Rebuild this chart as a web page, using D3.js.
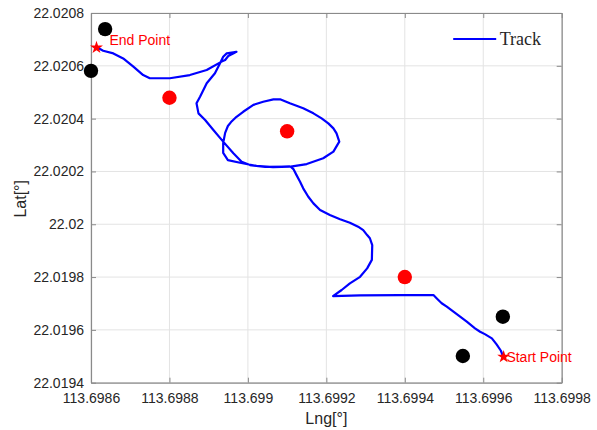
<!DOCTYPE html>
<html>
<head>
  <meta charset="UTF-8">
  <style>
body{
    margin: 0;
    background: #fff;
}
svg text{
    font-family: "Liberation Sans", Arial, sans-serif;
}
  </style>
</head>
<body>
<svg></svg>

<script src="https://d3js.org/d3.v7.min.js"></script>

<script>

let width = 597, height = 430;
let margin = {top: 13, right: 35.3, bottom: 47.3, left: 91};

// track, from start point to end point
let trackLng = [
    113.699651, 113.699645, 113.699634, 113.699622, 113.699604, 113.699592, 113.699579, 113.699558,
    113.699541, 113.699524, 113.699507, 113.699494, 113.699481, 113.699473, 113.699388, 113.699286,
    113.699217, 113.699239, 113.699260, 113.699286, 113.699304, 113.699316, 113.699317, 113.699311,
    113.699304, 113.699294, 113.699281, 113.699260, 113.699235, 113.699209, 113.699184, 113.699167,
    113.699154, 113.699141, 113.699133, 113.699124, 113.699116, 113.699109, 113.699150, 113.699192,
    113.699218, 113.699233, 113.699226, 113.699218, 113.699205, 113.699188, 113.699167, 113.699141,
    113.699107, 113.699082, 113.699065, 113.699039, 113.699014, 113.698988, 113.698971, 113.698957,
    113.698949, 113.698942, 113.698937, 113.698937, 113.698949, 113.698980, 113.699022, 113.699064,
    113.699107, 113.699044, 113.699005, 113.698984, 113.698963, 113.698937, 113.698912, 113.698891,
    113.698874, 113.698869, 113.698878, 113.698895, 113.698916, 113.698929, 113.698937, 113.698946,
    113.698971, 113.698950, 113.698942, 113.698933, 113.698895, 113.698852, 113.698801, 113.698750,
    113.698733, 113.698708, 113.698682, 113.698657, 113.698631, 113.698615
];
let trackLat = [
    22.019498, 22.019521, 22.019545, 22.019568, 22.019584, 22.019593, 22.019606, 22.019631,
    22.019650, 22.019669, 22.019688, 22.019701, 22.019720, 22.019732, 22.019732, 22.019731,
    22.019728, 22.019751, 22.019776, 22.019801, 22.019833, 22.019865, 22.019921, 22.019947,
    22.019959, 22.019978, 22.019991, 22.020006, 22.020019, 22.020035, 22.020054, 22.020079,
    22.020104, 22.020136, 22.020161, 22.020186, 22.020209, 22.020218, 22.020228, 22.020250,
    22.020275, 22.020313, 22.020344, 22.020363, 22.020382, 22.020401, 22.020420, 22.020439,
    22.020458, 22.020473, 22.020473, 22.020464, 22.020452, 22.020426, 22.020407, 22.020387,
    22.020372, 22.020346, 22.020308, 22.020270, 22.020243, 22.020233, 22.020221, 22.020216,
    22.020218, 22.020217, 22.020224, 22.020237, 22.020269, 22.020313, 22.020357, 22.020395,
    22.020420, 22.020458, 22.020483, 22.020534, 22.020572, 22.020610, 22.020634, 22.020647,
    22.020653, 22.020637, 22.020622, 22.020616, 22.020584, 22.020565, 22.020553, 22.020553,
    22.020565, 22.020597, 22.020628, 22.020647, 22.020657, 22.020670
];

let blackLng = [113.698636, 113.698600, 113.699548, 113.699650];
let blackLat = [22.020739, 22.020581, 22.019501, 22.019650];

let redLng = [113.698800, 113.699100, 113.699400];
let redLat = [22.020479, 22.020352, 22.019800];

let startLng = 113.699652, startLat = 22.019498;
let endLng = 113.698614, endLat = 22.020669;

let labels = ["Start Point", "End Point"];
let labelLng = [113.699659, 113.698647];
let labelLat = [22.019496, 22.020697];

let xTicks = [113.6986, 113.6988, 113.6990, 113.6992, 113.6994, 113.6996, 113.6998];
let yTicks = [22.0194, 22.0196, 22.0198, 22.0200, 22.0202, 22.0204, 22.0206, 22.0208];
let legendLabel = "Track";

let svg = d3.select("svg")
    .attr("width", width)
    .attr("height", height)

let w = width - margin.left - margin.right;
let h = height - margin.top - margin.bottom;

let x = d3.scaleLinear().domain([113.6986, 113.6998]).range([0, w]);
let y = d3.scaleLinear().domain([22.0194, 22.0208]).range([h, 0]);

let g = svg.append("g")
    .attr("transform", "translate(" + margin.left + "," + margin.top + ")")

let fmt = d => String(+d.toFixed(4));

// grid
g.append("g")
    .selectAll("line")
    .data(xTicks)
    .enter()
    .append("line")
    .attr("x1", d => x(d)).attr("x2", d => x(d))
    .attr("y1", 0).attr("y2", h)
    .attr("stroke", "#e3e3e3")
    .attr("stroke-width", 1)
g.append("g")
    .selectAll("line")
    .data(yTicks)
    .enter()
    .append("line")
    .attr("y1", d => y(d)).attr("y2", d => y(d))
    .attr("x1", 0).attr("x2", w)
    .attr("stroke", "#e3e3e3")
    .attr("stroke-width", 1)

function styleAxis(sel){
    sel.selectAll("path").attr("stroke", "#8a8a8a").attr("stroke-width", 1.2)
    sel.selectAll("line").attr("stroke", "#8a8a8a").attr("stroke-width", 1)
    sel.selectAll("text").attr("fill", "#262626").style("font-size", "14px")
        .style("font-family", "'Liberation Sans', Arial, sans-serif")
}

g.append("g")
    .attr("transform", "translate(0," + h + ")")
    .call(d3.axisBottom(x).tickValues(xTicks).tickFormat(fmt).tickSizeInner(-5).tickSizeOuter(0).tickPadding(10))
    .call(styleAxis)
g.append("g")
    .call(d3.axisLeft(y).tickValues(yTicks).tickFormat(fmt).tickSizeInner(-5).tickSizeOuter(0).tickPadding(7))
    .call(styleAxis)
g.append("g")
    .call(d3.axisTop(x).tickValues(xTicks).tickFormat("").tickSizeInner(-5).tickSizeOuter(0))
    .call(styleAxis)
g.append("g")
    .attr("transform", "translate(" + w + ",0)")
    .call(d3.axisRight(y).tickValues(yTicks).tickFormat("").tickSizeInner(-5).tickSizeOuter(0))
    .call(styleAxis)

// track line
let line = d3.line()
    .x((d, i) => x(trackLng[i]))
    .y((d, i) => y(trackLat[i]))

g.append("path")
    .datum(trackLng)
    .attr("d", line)
    .attr("fill", "none")
    .attr("stroke", "#0000ff")
    .attr("stroke-width", 2.2)
    .attr("stroke-linejoin", "round")

g.append("g")
    .selectAll("circle")
    .data(blackLng)
    .enter()
    .append("circle")
    .attr("cx", d => x(d))
    .attr("cy", (d, i) => y(blackLat[i]))
    .attr("r", 7.2)
    .attr("fill", "#000")

g.append("g")
    .selectAll("circle")
    .data(redLng)
    .enter()
    .append("circle")
    .attr("cx", d => x(d))
    .attr("cy", (d, i) => y(redLat[i]))
    .attr("r", 7.2)
    .attr("fill", "#ff0000")

let star = d3.symbol().type(d3.symbolStar).size(52)
g.append("g")
    .selectAll("path")
    .data([[startLng, startLat], [endLng, endLat]])
    .enter()
    .append("path")
    .attr("d", star)
    .attr("transform", d => "translate(" + x(d[0]) + "," + y(d[1]) + ")")
    .attr("fill", "#ff0000")

g.append("g")
    .selectAll("text")
    .data(labels)
    .enter()
    .append("text")
    .attr("x", (d, i) => x(labelLng[i]))
    .attr("y", (d, i) => y(labelLat[i]))
    .attr("dy", "0.35em")
    .attr("fill", "#ff0000")
    .style("font-size", "14px")
    .text(d => d)

// legend
let lg = g.append("g")
    .attr("transform", "translate(" + (w - 108.5) + ",26)")
lg.append("line")
    .attr("x1", 0).attr("x2", 43)
    .attr("stroke", "#0000ff")
    .attr("stroke-width", 2.2)
lg.append("text")
    .attr("x", 46.5)
    .attr("y", 6)
    .attr("fill", "#262626")
    .style("font-family", "'Liberation Serif', 'DejaVu Serif', serif")
    .style("font-size", "18px")
    .text(legendLabel)

// axis labels
svg.append("text")
    .attr("x", margin.left + w / 2)
    .attr("y", 424)
    .attr("text-anchor", "middle")
    .attr("fill", "#262626")
    .style("font-size", "16px")
    .text("Lng[°]")
svg.append("text")
    .attr("transform", "translate(26," + (margin.top + h / 2 + 1) + ") rotate(-90)")
    .attr("text-anchor", "middle")
    .attr("fill", "#262626")
    .style("font-size", "16px")
    .text("Lat[°]")

</script>
</body>
</html>
